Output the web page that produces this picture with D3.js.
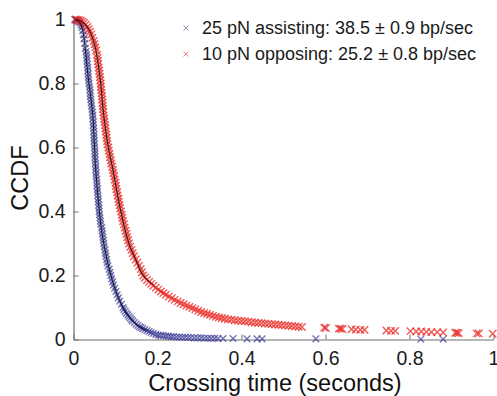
<!DOCTYPE html>
<html><head><meta charset="utf-8">
<script src="https://cdn.jsdelivr.net/npm/d3@7"></script>
<style>
html,body{margin:0;padding:0;background:#fff;}
svg{display:block;font-family:"Liberation Sans",Arial,sans-serif;}
</style></head>
<body>
<svg id="chart" width="497" height="396"></svg>
<script>
const seriesNames = ["25 pN assisting: 38.5 \u00b1 0.9 bp/sec", "10 pN opposing: 25.2 \u00b1 0.8 bp/sec"];
const xTicks = [0, 0.2, 0.4, 0.6, 0.8, 1];
const yTicks = [0, 0.2, 0.4, 0.6, 0.8, 1];
const xTickLabels = ["0", "0.2", "0.4", "0.6", "0.8", "1"];
const yTickLabels = ["0", "0.2", "0.4", "0.6", "0.8", "1"];

// 25 pN assisting: [time (s), CCDF]
const assisting = [
[0.003,1.000],[0.006,0.999],[0.009,0.997],[0.012,0.994],[0.015,0.990],[0.018,0.983],[0.020,0.975],[0.022,0.965],[0.024,0.952],[0.025,0.940],[0.027,0.925],[0.028,0.910],[0.030,0.900],
[0.031,0.89],[0.032,0.88],[0.032,0.87],[0.033,0.86],[0.034,0.85],[0.034,0.84],[0.035,0.83],[0.035,0.82],
[0.036,0.81],[0.037,0.80],[0.038,0.79],[0.039,0.78],[0.040,0.77],[0.040,0.76],[0.041,0.75],[0.042,0.74],[0.043,0.73],[0.044,0.72],[0.045,0.71],[0.046,0.70],
[0.046,0.69],[0.047,0.68],[0.047,0.67],[0.048,0.66],[0.048,0.65],[0.049,0.64],[0.049,0.63],[0.049,0.62],[0.050,0.61],[0.050,0.60],[0.051,0.59],[0.051,0.58],[0.051,0.57],[0.052,0.56],[0.052,0.55],[0.053,0.54],[0.053,0.53],
[0.054,0.52],[0.054,0.51],[0.055,0.50],[0.056,0.49],[0.056,0.48],[0.057,0.47],[0.057,0.46],[0.058,0.45],[0.059,0.44],[0.059,0.43],[0.060,0.42],[0.061,0.41],[0.061,0.40],[0.062,0.39],[0.063,0.38],[0.064,0.37],[0.065,0.36],
[0.067,0.35],[0.068,0.34],[0.069,0.33],[0.070,0.32],[0.071,0.31],[0.072,0.30],[0.073,0.29],[0.075,0.28],[0.076,0.27],[0.077,0.26],[0.079,0.25],[0.080,0.24],[0.082,0.23],[0.085,0.22],
[0.087,0.21],[0.089,0.20],[0.091,0.19],[0.093,0.18],[0.095,0.17],[0.098,0.16],[0.101,0.15],[0.104,0.14],[0.107,0.13],[0.110,0.12],[0.114,0.11],[0.118,0.10],
[0.120,0.094],[0.123,0.088],[0.126,0.082],[0.129,0.077],[0.132,0.072],[0.135,0.067],[0.138,0.062],[0.141,0.058],[0.145,0.053],[0.149,0.048],[0.153,0.044],[0.157,0.040],[0.161,0.037],[0.165,0.034],[0.170,0.031],[0.175,0.028],[0.180,0.025],[0.185,0.022],[0.190,0.019],[0.196,0.016],[0.202,0.014],[0.208,0.013],[0.214,0.012],[0.220,0.011],[0.226,0.010],[0.232,0.009],[0.238,0.009],[0.245,0.008],[0.252,0.008],[0.259,0.007],[0.266,0.007],[0.273,0.006],[0.280,0.006],[0.288,0.005],[0.296,0.005],[0.304,0.005],[0.312,0.004],[0.320,0.004],[0.328,0.004],[0.336,0.004],[0.344,0.003],[0.356,0.003],[0.380,0.003],[0.413,0.002],[0.437,0.002],[0.449,0.002],[0.577,0.002],[0.827,0.001],[0.880,0.001]
];

// 10 pN opposing: [time (s), CCDF]
const opposing = [
[0.005,1.000],[0.009,0.999],[0.013,0.998],[0.017,0.996],[0.021,0.993],[0.025,0.989],[0.029,0.984],[0.033,0.977],[0.036,0.970],[0.039,0.962],[0.042,0.953],[0.045,0.943],[0.048,0.933],[0.050,0.923],[0.052,0.913],[0.054,0.903],[0.056,0.89],[0.057,0.88],[0.058,0.87],[0.059,0.86],[0.060,0.85],[0.061,0.84],[0.062,0.83],[0.063,0.82],
[0.064,0.81],[0.065,0.80],[0.065,0.79],[0.066,0.78],[0.067,0.77],[0.068,0.76],[0.068,0.75],[0.069,0.74],[0.070,0.73],[0.070,0.72],[0.071,0.71],[0.072,0.70],
[0.073,0.69],[0.074,0.68],[0.075,0.67],[0.076,0.66],[0.077,0.65],[0.078,0.64],[0.079,0.63],[0.080,0.62],[0.081,0.61],[0.083,0.60],
[0.084,0.59],[0.086,0.58],[0.087,0.57],[0.089,0.56],[0.090,0.55],[0.092,0.54],[0.094,0.53],
[0.095,0.52],[0.097,0.51],[0.098,0.50],[0.100,0.49],[0.101,0.48],[0.102,0.47],[0.104,0.46],[0.105,0.45],
[0.107,0.44],[0.108,0.43],[0.110,0.42],[0.111,0.41],[0.113,0.40],[0.115,0.39],[0.116,0.38],[0.118,0.37],
[0.120,0.36],[0.122,0.35],[0.124,0.34],[0.126,0.33],[0.128,0.32],[0.130,0.31],[0.132,0.30],
[0.135,0.29],[0.138,0.28],[0.141,0.27],[0.144,0.26],[0.148,0.25],[0.152,0.24],[0.156,0.23],[0.160,0.22],[0.163,0.21],[0.166,0.20],
[0.170,0.193],[0.175,0.186],[0.180,0.180],[0.185,0.174],[0.190,0.168],[0.196,0.162],[0.202,0.156],[0.208,0.150],[0.214,0.145],[0.220,0.140],[0.227,0.134],[0.234,0.129],[0.241,0.124],[0.248,0.119],[0.255,0.114],[0.262,0.110],[0.269,0.106],[0.276,0.102],[0.283,0.098],[0.290,0.094],[0.297,0.090],[0.304,0.086],[0.311,0.083],[0.318,0.080],[0.325,0.077],[0.332,0.074],[0.339,0.071],[0.346,0.069],[0.353,0.067],[0.360,0.065],[0.368,0.063],[0.376,0.062],[0.384,0.060],[0.392,0.059],[0.400,0.058],[0.408,0.057],[0.416,0.056],[0.424,0.054],[0.432,0.053],[0.440,0.052],[0.448,0.051],[0.456,0.050],[0.464,0.049],[0.472,0.048],[0.480,0.047],[0.488,0.046],[0.496,0.045],[0.504,0.044],[0.512,0.043],[0.520,0.042],[0.528,0.041],[0.536,0.040],[0.544,0.039],
[0.597,0.037],[0.601,0.036],[0.632,0.034],[0.636,0.034],[0.640,0.033],[0.662,0.032],[0.672,0.031],[0.683,0.030],[0.693,0.030],[0.745,0.028],[0.756,0.027],[0.766,0.027],[0.802,0.026],[0.816,0.025],[0.828,0.025],[0.840,0.024],[0.852,0.023],[0.866,0.023],[0.880,0.022],[0.909,0.021],[0.913,0.021],[0.917,0.020],[0.960,0.019],[0.965,0.019],[0.998,0.018]
];

// fitted curves (black lines)
const assistingFit = [[0.004,1.0],[0.015,0.99],[0.022,0.965],[0.028,0.91],[0.035,0.82],[0.046,0.70],[0.050,0.60],[0.053,0.53],[0.058,0.45],[0.065,0.36],[0.072,0.30],[0.085,0.22],[0.101,0.15],[0.118,0.10],[0.135,0.067],[0.153,0.044],[0.175,0.028]];
const opposingFit = [[0.006,1.0],[0.025,0.989],[0.039,0.962],[0.050,0.923],[0.063,0.82],[0.072,0.70],[0.083,0.60],[0.094,0.53],[0.105,0.45],[0.118,0.37],[0.132,0.30],[0.148,0.25],[0.166,0.20],[0.190,0.172]];

const W = 497, H = 396;
const m = {left: 73.5, right: 3.5, top: 19.5, bottom: 56.5};
const svg = d3.select("#chart");
const x = d3.scaleLinear().domain([0, 1]).range([m.left, W - m.right]);
const y = d3.scaleLinear().domain([0, 1]).range([H - m.bottom, m.top]);

const colors = ["#2d2d8f", "#e8231e"];
const legendColors = ["#9a9ac8", "#f28a8a"];

const xAxis = d3.axisBottom(x).tickValues(xTicks).tickFormat((d, i) => xTickLabels[i]).tickSizeInner(-5).tickSizeOuter(0).tickPadding(12);
const yAxis = d3.axisLeft(y).tickValues(yTicks).tickFormat((d, i) => yTickLabels[i]).tickSizeInner(-5).tickSizeOuter(0).tickPadding(8);

const gx = svg.append("g").attr("transform", `translate(0,${y(0)})`).call(xAxis);
const gy = svg.append("g").attr("transform", `translate(${x(0)},0)`).call(yAxis);
[gx, gy].forEach(g => {
  g.select(".domain").attr("stroke", "#6e6e6e").attr("stroke-width", 1.2);
  g.selectAll(".tick line").attr("stroke", "#6e6e6e");
  g.selectAll(".tick text").attr("fill", "#1a1a1a").style("font-size", "19.5px").style("font-family", "'Liberation Sans', Arial, sans-serif");
});

function xMark(sel, s) {
  sel.attr("d", `M${-s},${-s}L${s},${s}M${-s},${s}L${s},${-s}`);
}

const plot = svg.append("g");
[assisting, opposing].forEach((data, k) => {
  plot.append("g").selectAll("path").data(data).join("path")
    .attr("transform", d => `translate(${x(d[0])},${y(d[1])})`)
    .call(xMark, k === 0 ? 3.3 : 3.7)
    .attr("fill", "none")
    .attr("stroke", colors[k])
    .attr("stroke-opacity", k === 0 ? 0.65 : 0.75)
    .attr("stroke-width", 1.4);
});

const line = d3.line().x(d => x(d[0])).y(d => y(d[1])).curve(d3.curveCatmullRom);
[assistingFit, opposingFit].forEach(f => {
  plot.append("path").attr("d", line(f)).attr("fill", "none").attr("stroke", "#111").attr("stroke-width", 1);
});

// legend
const leg = svg.append("g");
seriesNames.forEach((name, i) => {
  const cy = 28 + i * 26;
  leg.append("path").attr("transform", `translate(186,${cy})`).call(xMark, 2.5)
    .attr("fill", "none").attr("stroke", legendColors[i]).attr("stroke-width", 1);
  leg.append("text").attr("x", 202).attr("y", cy + 6).text(name)
    .attr("fill", "#1a1a1a").style("font-size", "18px");
});

// axis titles
svg.append("text").attr("x", 275).attr("y", 391).attr("text-anchor", "middle")
  .style("font-size", "23.5px").attr("fill", "#111").text("Crossing time (seconds)");
svg.append("text").attr("transform", "translate(28,178) rotate(-90)").attr("text-anchor", "middle")
  .style("font-size", "23.5px").attr("fill", "#111").text("CCDF");
</script>
</body></html>
